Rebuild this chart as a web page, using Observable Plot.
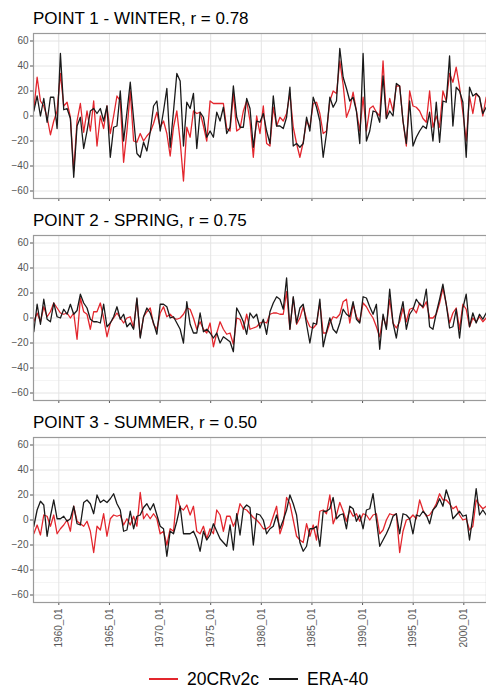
<!DOCTYPE html>
<html><head><meta charset="utf-8">
<script src="https://cdn.jsdelivr.net/npm/d3@7"></script>
<script src="https://cdn.jsdelivr.net/npm/@observablehq/plot@0.6"></script>
<style>
body{margin:0;background:#fff;}
#root{position:relative;width:486px;height:689px;overflow:hidden;font-family:"Liberation Sans",Arial,sans-serif;background:#fff;}
.title{position:absolute;left:33px;font-size:17px;line-height:17px;color:#000;white-space:nowrap;}
.panel{position:absolute;left:0;}
.legend{position:absolute;top:670px;left:149px;display:flex;align-items:center;font-size:17.5px;line-height:18px;color:#000;white-space:nowrap;}
.sw{display:block;}
</style></head><body><div id="root"></div>
<script>
// ---- data ----
const yTicks = [-60, -40, -20, 0, 20, 40, 60];
const yMinor = [-50, -30, -10, 10, 30, 50];
const xTickYears = [1960, 1965, 1970, 1975, 1980, 1985, 1990, 1995, 2000];
const seriesNames = ["20CRv2c", "ERA-40"];
const seriesColors = ["#e3262d", "#1a1a1a"];
const startYear = 1957.53;
const stepYears = 0.3285;

const panelTitles = ["POINT 1 - WINTER, r = 0.78", "POINT 2 - SPRING, r = 0.75", "POINT 3 - SUMMER, r = 0.50"];

const winter20CR = [5, 31, 12, 8, -1, -15, -4, 4, 34,
  8, 11, -1, -44, -4, 10, -13, 4, -12, 12, -24, 0, -10, 8, -14, 0, 16, 12, -37, -12, 20, -20, -21, -14, -20, -16, -13, -6, 3, -9, -4, -14, -32, -9, 4, -20, -52, -9, -17,
  4, 2, 3, -8, -20, 12, 10, 10, 10, 10, -10, -12, 18, -12, -10, 4, 12, -4, -33, 0, -14, 8, -22, -24, 7, -8, -1, -4, 2, 18, -9, -22, -33, -21, -4, -9, 10, 11, 2, -14, -12,
  12, 20, 18, 44, 25, -1, 6, 19, 4, -12, 15, -12, 6, 8, 3, 0, 44, -2, 14, 4, 24, 24, -4, -24, 20, 8, 7, 4, -2, -5, 20, -9, 0, -9, 20, 12, 34, 27, 39, 23, 3, -20, 16, 2, 18, 15, 0, 15];
const winterERA = [4, 16, 0, 14, -5, 15, 15, -10, 50,
  5, 6, -2, -49, -8, -1, -26, -12, 4, 6, 2, 6, -4, 8, -33, -9, -8, 20, -20, 3, 27, -2, -30, -33, -21, -28, -13, 8, 12, -12, 4, 22, -25, 4, 34, 28, -24, 11, 6,
  18, -26, 3, -1, -17, -12, -17, 3, -4, 7, -14, -9, 24, -1, -9, -9, 14, 6, -25, -4, -5, 2, -12, -22, 16, -8, -8, -10, -1, 23, -24, -22, -25, -22, -1, -12, 15, 7, -4, -33, -14,
  15, 7, 12, 54, 31, 22, 12, 15, 4, -22, 50, -20, -12, 4, 3, -5, 32, -2, 4, 0, 26, 24, -4, -22, 12, -24, -17, -12, -8, -10, 3, -20, 11, -21, 12, 11, 48, -8, 23, 20, 11, -33, 23, 16, 18, 15, 2, 7];

const spring20CR = [-3, 4, -3, 9, 1, 5, 12, 8, 4, 3, 4, 0, 4, -17, 16, 5, 3, -9, 5, 5, 12, 0, -15, -4, 0, 4, 0, -4, 0, 1, -8, 15, -15, 1, 5, 8, -5, -9, 4, 9, 1, 3, 0, -1, 0, 3, 8, 7,
  0, -9, -3, -9, -12, -4, -23, -12, -3, -9, -13, -12, -21, 0, -1, -9, 3, -9, -8, -7, -4, -3, -4, 3, 4, 4, 3, 3, 21, -9, 16, -5, 0, 9, -1, -7, -8, -5, 12, -12, -12,
  -4, 1, 0, 3, 13, 15, -4, 11, 1, -3, 12, 9, 4, 0, -7, -15, 1, -7, 15, -4, -8, -3, 8, -3, 7, 8, 4, 12, 8, 13, 0, 0, 3, 12, 24, 11, -4, 4, 8, -9, 11, 7, -7, 0, -3, 1, -3, 0];
const springERA = [-11, 11, -5, 15, -1, -3, 12, 1, 0, 7, 3, 11, 3, 6, 19, 12, 8, -1, -3, -3, -4, 11, -7, -4, 1, 9, -1, 3, -7, -4, -9, 16, -16, 1, 8, 4, -4, -13, 11, 11, 9, 0, 1, -4, -9, -20, 13, -5,
  -12, -12, 4, -11, -9, -12, -16, -12, -20, -15, -17, -19, -27, 8, 3, -3, -13, 4, 0, 3, -8, -1, -13, 5, 12, 17, 15, 7, 32, -9, 17, -4, 8, 11, -5, -20, -4, -5, 15, -23, -11,
  0, -9, -12, -4, 7, 3, 1, 13, -1, -4, 17, 16, 9, 3, 11, -25, 3, -9, 23, -4, -16, 1, 13, -9, 3, 7, 15, 11, 9, 23, -7, -9, 4, 15, 27, 11, -8, -7, 7, -16, 8, 19, -7, 4, -4, 3, -1, 4];

const summer20CR = [-11, -4, -12, 4, 3, -5, 4, -11, -7, -4, 0, -9, 11, -1, -3, -5, -1, -9, -26, -5, -8, 5, -13, 1, 4, 3, 4, -4, 1, -4, 3, -5, 22, 1, 5, 1, 5, 1, -11, -9, -20, -7, -9, 20, 10, 8, 12, 4, 11, -9, -11, -5, -15, -7, -11, 8, 4, -9, 3, 3, -5, 1,
  13, 9, 8, 5, 2, 0, -3, -7, -7, -5, 3, 11, -11, -3, 18, 13, 0, -13, -16, -18, -3, -13, -4, -16, 7, 8, 5, 20, -3, 4, 14, 7, -1, 8, 3, 5, -1, 5, 4, 0, 4, 5, -11, -8, 0, 5, 4, 5, -26, -9, 0, 1, 4, 1, 16, 8, 3, 4, 8, 13, 21, 16, 16, 13, 9, 11, 4, 0, 1, -8, -5, 16, 12, 9, 11];
const summerERA = [-5, 8, 15, 12, -13, 3, 16, 1, 1, 3, -1, 1, 11, -3, -4, 14, 16, 13, 5, 20, 14, 16, 14, 17, 21, 13, 8, -9, -8, 7, -7, 3, 4, 10, 13, 8, 13, 4, -5, -7, -29, -9, -11, -1, 11, -11, -11, -11, -9, -15, -25, -9, -16, -12, -3, -9, -15, -18, -21, -4, -24, 5,
  -12, 9, 12, 10, -20, 5, 4, 0, -11, -7, -5, 4, -7, 0, 8, 20, 13, 4, -18, -25, -21, -7, -7, -5, -21, 7, 7, 9, 18, 1, 4, 5, -7, 11, 9, -1, 4, -7, 8, 9, 21, 0, -21, -16, -11, -5, 3, 5, -11, 5, 4, 1, -11, 4, 3, 7, 4, -3, 8, 11, 17, 11, 24, 16, 1, 4, 7, 3, 4, -16, 3, 25, 4, 8, 4];

// ---- layout ----
const panelTops = [33, 235, 437];
const panelH = 165;
const root = document.getElementById("root");

function toRows(values) {
  return values.map((v, i) => ({t: startYear + i * stepYears, v}));
}

function makePanel(idx, red, black, showLabels) {
  const top = panelTops[idx];
  const t = document.createElement("div");
  t.className = "title";
  t.style.top = (top - 23) + "px";
  t.textContent = panelTitles[idx];
  root.appendChild(t);

  const mb = showLabels ? 55 : 5;
  const chart = Plot.plot({
    width: 486, height: panelH + mb,
    marginLeft: 33, marginRight: 0, marginTop: 0, marginBottom: mb,
    style: {fontFamily: "'Liberation Sans', Arial, sans-serif", fontSize: "10px", color: "#555", background: "transparent", overflow: "visible"},
    x: {domain: [1957.5, 2002.24], ticks: xTickYears, tickFormat: showLabels ? (d => d + "_01") : (() => ""),
        tickRotate: showLabels ? -90 : 0, tickSize: 3, tickPadding: 3, label: null},
    y: {domain: [-66, 66], ticks: yTicks, tickSize: 3, tickPadding: 2, label: null},
    marks: [
      Plot.gridY(yMinor, {stroke: "#ececec", strokeOpacity: 1, strokeWidth: 0.6}),
      Plot.gridY(yTicks, {stroke: "#e4e4e4", strokeOpacity: 1, strokeWidth: 1}),
      Plot.gridX(xTickYears, {stroke: "#e4e4e4", strokeOpacity: 1, strokeWidth: 1}),
      Plot.lineY(toRows(red), {x: "t", y: "v", stroke: seriesColors[0], strokeWidth: 1.3, clip: true}),
      Plot.lineY(toRows(black), {x: "t", y: "v", stroke: seriesColors[1], strokeWidth: 1.3, clip: true}),
      Plot.frame({stroke: "#9a9a9a", strokeWidth: 1.2})
    ]
  });
  const wrap = document.createElement("div");
  wrap.className = "panel";
  wrap.style.top = top + "px";
  wrap.appendChild(chart);
  root.appendChild(wrap);
}

makePanel(0, winter20CR, winterERA, false);
makePanel(1, spring20CR, springERA, false);
makePanel(2, summer20CR, summerERA, true);

// legend
const lg = document.createElement("div");
lg.className = "legend";
seriesNames.forEach((name, i) => {
  const sw = document.createElementNS("http://www.w3.org/2000/svg", "svg");
  sw.setAttribute("width", 29); sw.setAttribute("height", 6);
  sw.setAttribute("class", "sw");
  sw.style.marginLeft = i === 0 ? "0px" : "10px";
  sw.style.marginRight = "9px";
  const ln = document.createElementNS("http://www.w3.org/2000/svg", "line");
  ln.setAttribute("x1", 0); ln.setAttribute("x2", 29); ln.setAttribute("y1", 3); ln.setAttribute("y2", 3);
  ln.setAttribute("stroke", seriesColors[i]); ln.setAttribute("stroke-width", 2);
  sw.appendChild(ln);
  lg.appendChild(sw);
  const sp = document.createElement("span");
  sp.textContent = name;
  lg.appendChild(sp);
});
root.appendChild(lg);
</script></body></html>
